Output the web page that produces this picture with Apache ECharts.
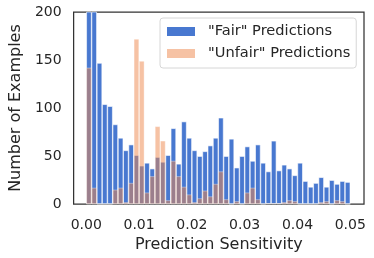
<!DOCTYPE html>
<html><head><meta charset="utf-8">
<script src="https://cdn.jsdelivr.net/npm/echarts@6/dist/echarts.min.js"></script>
<style>html,body{margin:0;padding:0;background:#fff}#c{width:374px;height:258px}</style>
</head><body><div id="c"></div>
<script>
var binStart = 0;
var binWidth = 0.001;
var fairCounts = [260,230,147,104,102,83,69,56,62,51,40,43,37,49,44,51,79,42,86,69,56,50,55,61,69,90,50,68,38,50,60,45,62,43,34,66,35,41,37,30,43,24,18,22,28,18,25,21,24,23];
var unfairCounts = [142,17,0,0,0,15,17,2,22,172,149,12,29,81,66,4,45,29,18,10,2,6,14,8,21,34,5,0,3,0,12,17,5,0,1,1,1,2,4,3,0,0,0,0,2,3,0,4,3,0];
var xTicks = [0,0.01,0.02,0.03,0.04,0.05];
var yTicks = [0,50,100,150,200];
var seriesNames = ['"Fair" Predictions','"Unfair" Predictions'];

function pairs(arr){return arr.map(function(v,i){return [binStart+(i+0.5)*binWidth, v];});}
var font = 'DejaVu Sans';
var txt = '#262626';
var chart = echarts.init(document.getElementById('c'));
chart.setOption({
  animation:false,
  textStyle:{fontFamily:font},
  grid:{left:65,top:12,right:10,bottom:52,show:true,borderColor:'#333',borderWidth:1.25,backgroundColor:'transparent'},
  legend:{
    orient:'vertical',left:160,top:18,
    padding:[6,6,7,7],
    icon:'rect',
    itemWidth:28,itemHeight:9,itemGap:7,
    borderColor:'#d6d6d6',borderWidth:1,borderRadius:3,backgroundColor:'rgba(255,255,255,0.8)',
    textStyle:{fontFamily:font,fontSize:14.6,color:txt,lineHeight:14,padding:[0,0,0,8]},
    itemStyle:{borderWidth:0},
    data:seriesNames
  },
  xAxis:{
    type:'value',min:-0.0024,max:0.0526,
    splitLine:{show:false},axisLine:{show:false},axisTick:{show:false},
    axisLabel:{customValues:xTicks,fontSize:14,color:txt,margin:14,fontFamily:font,
      formatter:function(v){return v.toFixed(2);}},
    name:'Prediction Sensitivity',nameLocation:'middle',nameGap:30,
    nameTextStyle:{fontSize:16,color:txt,fontFamily:font}
  },
  yAxis:{
    type:'value',min:0,max:200,interval:50,
    splitLine:{show:false},axisLine:{show:false},axisTick:{show:false},
    axisLabel:{fontSize:14,color:txt,margin:12,fontFamily:font},
    name:'Number of Examples',nameLocation:'middle',nameGap:45,
    nameTextStyle:{fontSize:16,color:txt,fontFamily:font}
  },
  series:[
    {name:seriesNames[0],type:'bar',data:pairs(fairCounts),barWidth:5.44,barGap:'-100%',clip:true,
     itemStyle:{color:'#4878d0',borderColor:'rgba(255,255,255,0.85)',borderWidth:0.7}},
    {name:seriesNames[1],type:'bar',data:pairs(unfairCounts),barWidth:5.44,barGap:'-100%',clip:true,
     itemStyle:{color:'rgba(238,133,74,0.5)',borderColor:'rgba(255,255,255,0.5)',borderWidth:0.7}}
  ]
});
</script></body></html>
